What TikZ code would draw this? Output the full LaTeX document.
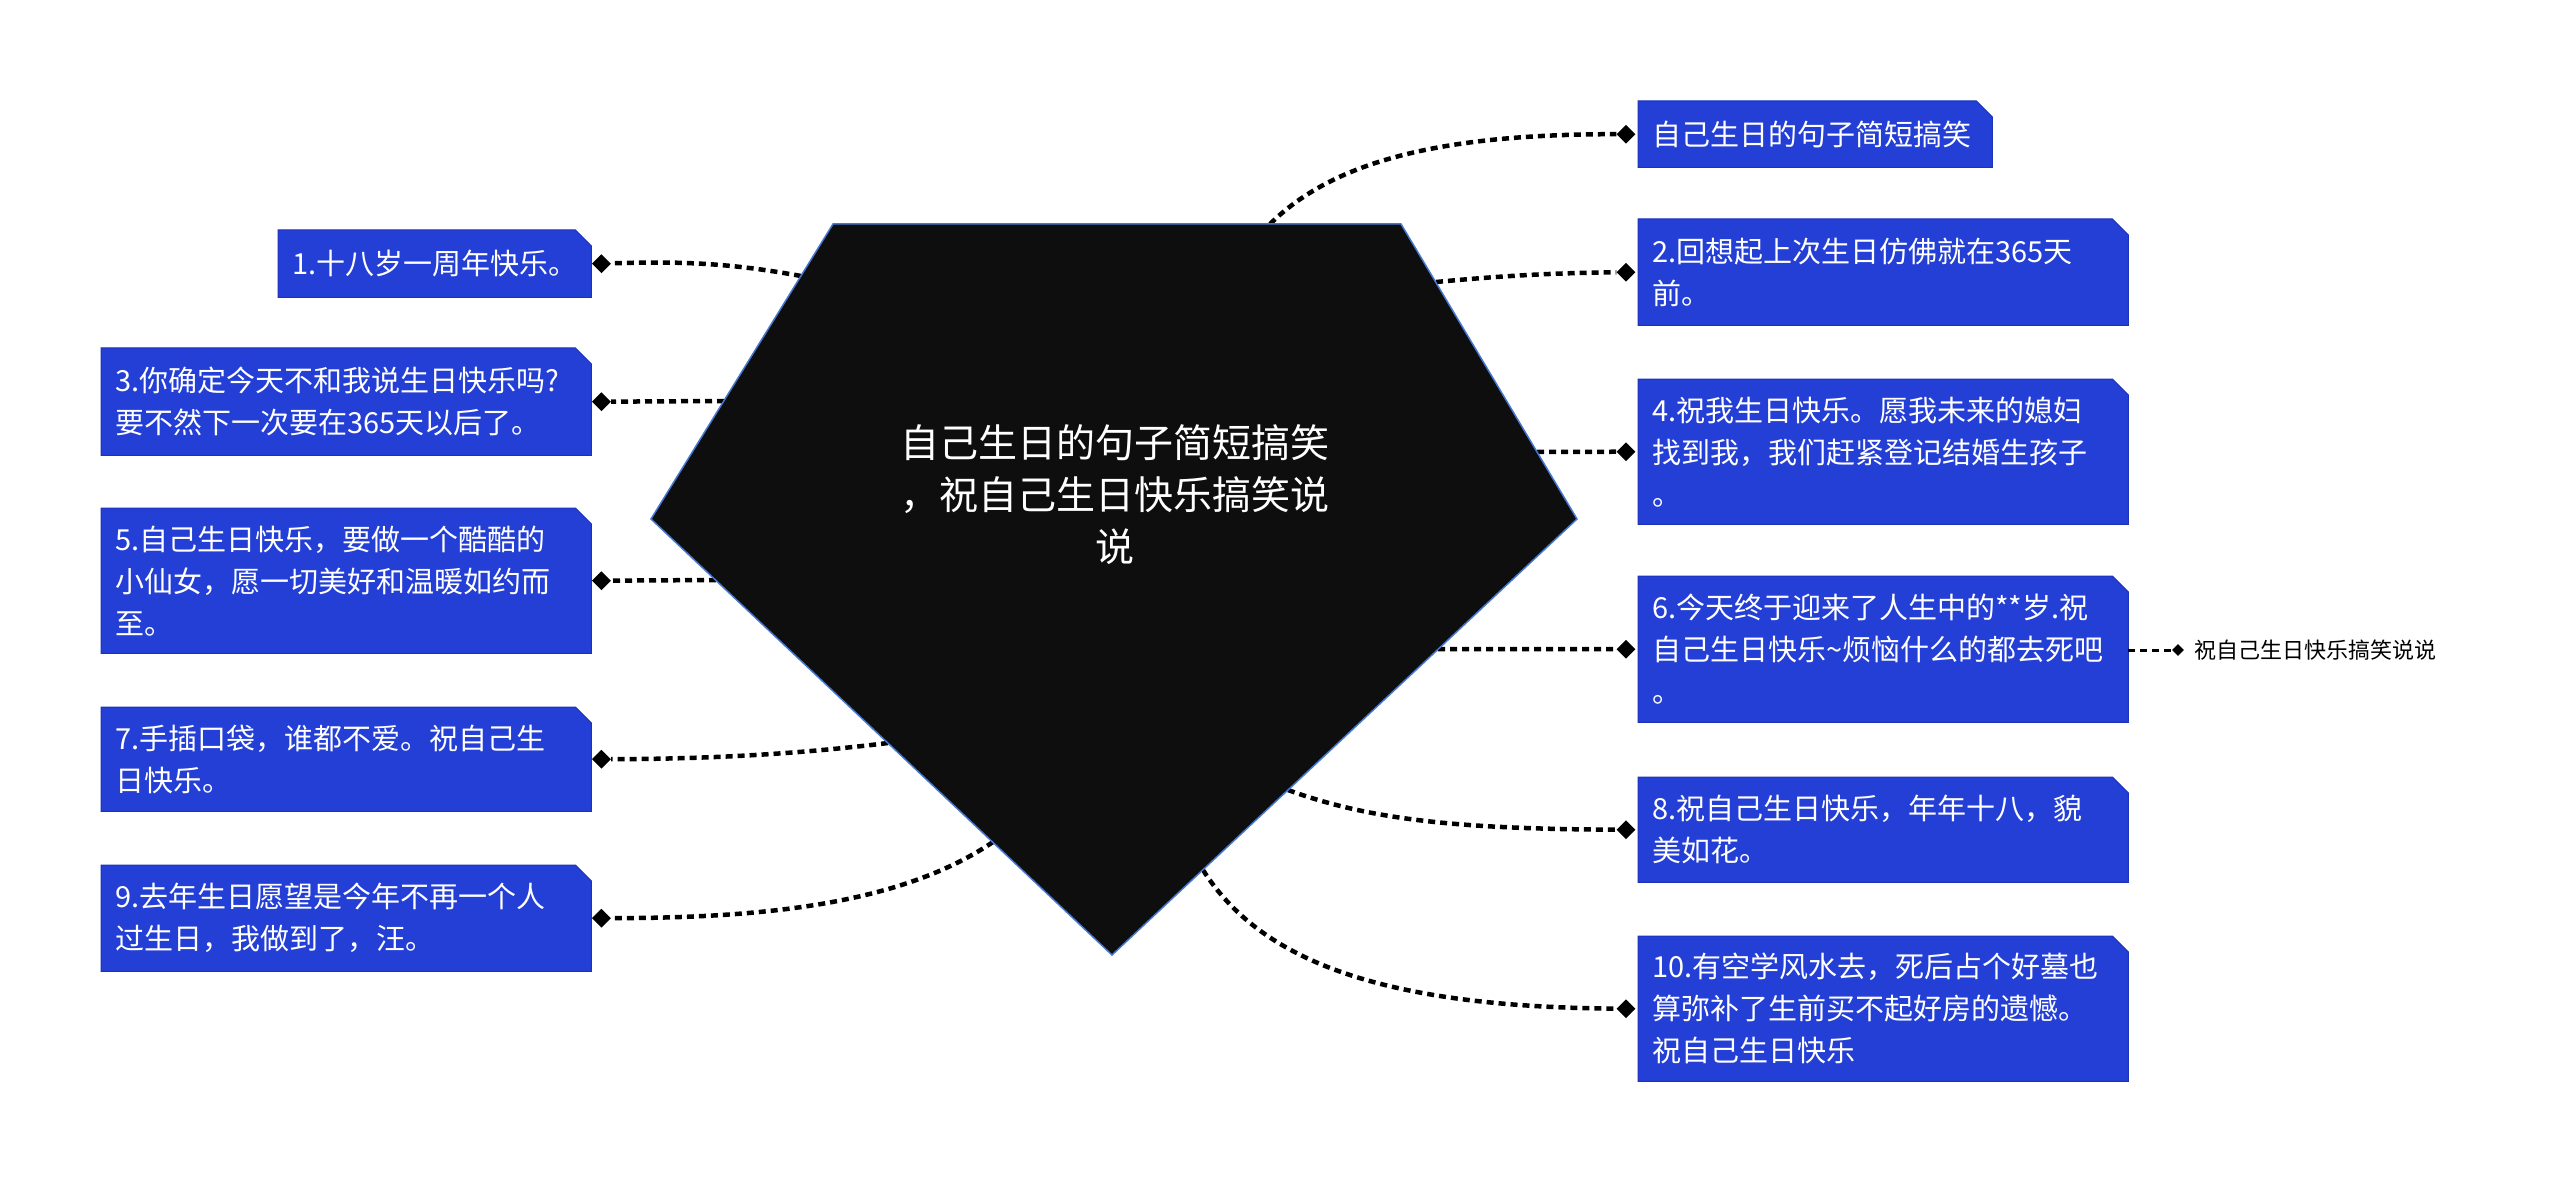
\documentclass[tikz,border=0pt]{standalone}
\usepackage{fontspec}
\setmainfont{Noto Sans CJK SC}
\usetikzlibrary{shapes.geometric,backgrounds}
\definecolor{boxblue}{RGB}{36,63,214}
\definecolor{boxedge}{RGB}{28,50,185}
\definecolor{rootfill}{RGB}{14,14,14}
\definecolor{rootedge}{RGB}{70,120,210}
\begin{document}
\begin{tikzpicture}[x=1pt,y=1pt,
  topic/.style={anchor=north west, rectangle, inner xsep=14pt, inner ysep=0pt,
    minimum width=490pt, text width=462pt, align=left, text=white,
    font=\fontsize{29}{42}\selectfont},
  link/.style={line width=4.5pt, dash pattern=on 7pt off 5pt, black},
  tip/.style={diamond, fill=black, inner sep=0pt, minimum width=19pt, minimum height=19pt},
  smalltip/.style={diamond, fill=black, inner sep=0pt, minimum width=12pt, minimum height=12pt},
  boxfill/.style={fill=boxblue, draw=boxedge, line width=1pt}]
\useasboundingbox (0,0) rectangle (2560,-1182);

% topic boxes
\node[topic, minimum width=354pt, text width=326pt, minimum height=66pt] (t) at (1638,-101) {自己生日的句子简短搞笑};
\node[topic, minimum height=106pt] (b2) at (1638,-219) {2.回想起上次生日仿佛就在365天\\前。};
\node[topic, minimum height=145pt] (b4) at (1638,-379) {4.祝我生日快乐。愿我未来的媳妇\\找到我，我们赶紧登记结婚生孩子\\。};
\node[topic, minimum height=146pt] (b6) at (1638,-576) {6.今天终于迎来了人生中的**岁.祝\\自己生日快乐\textasciitilde 烦恼什么的都去死吧\\。};
\node[topic, minimum height=105pt] (b8) at (1638,-777) {8.祝自己生日快乐，年年十八，貌\\美如花。};
\node[topic, minimum height=145pt] (b10) at (1638,-936) {10.有空学风水去，死后占个好墓也\\算弥补了生前买不起好房的遗憾。\\祝自己生日快乐};
\node[topic, minimum width=313pt, text width=285pt, minimum height=67pt] (b1) at (278,-230) {1.十八岁一周年快乐。};
\node[topic, minimum height=107pt] (b3) at (101,-348) {3.你确定今天不和我说生日快乐吗?\\要不然下一次要在365天以后了。};
\node[topic, minimum height=145pt] (b5) at (101,-508) {5.自己生日快乐，要做一个酷酷的\\小仙女，愿一切美好和温暖如约而\\至。};
\node[topic, minimum height=104pt] (b7) at (101,-707) {7.手插口袋，谁都不爱。祝自己生\\日快乐。};
\node[topic, minimum height=106pt] (b9) at (101,-865) {9.去年生日愿望是今年不再一个人\\过生日，我做到了，汪。};

\begin{scope}[on background layer]
  \foreach \n in {t,b1,b2,b3,b4,b5,b6,b7,b8,b9,b10}
    \path[boxfill] (\n.north west) -- ([xshift=-16pt]\n.north east)
      -- ([yshift=-16pt]\n.north east) -- (\n.south east) -- (\n.south west) -- cycle;
\end{scope}

% diamonds
\foreach \n in {t,b2,b4,b6,b8,b10}
  \node[tip] (d\n) at ([xshift=-12pt]\n.west) {};
\foreach \n in {b1,b3,b5,b7,b9}
  \node[tip] (d\n) at ([xshift=10pt]\n.east) {};

% sub label
\node[anchor=west, font=\fontsize{22}{26}\selectfont, inner sep=0pt] (sub) at (2194,-650) {祝自己生日快乐搞笑说说};
\node[smalltip] (dsub) at (2178,-650) {};
\draw[link, line width=3pt] (b6.east |- dsub) -- (dsub);

% start points on the root outline
\coordinate (st) at (1270,-224);
\coordinate (s2) at (1436,-282);
\coordinate (s4) at (1537,-452);
\coordinate (s6) at (1438,-649);
\coordinate (s8) at (1288,-790);
\coordinate (s10) at (1203,-870);
\coordinate (s1) at (801,-276);
\coordinate (s3) at (724,-401);
\coordinate (s5) at (716,-580);
\coordinate (s7) at (888,-743);
\coordinate (s9) at (993,-842);

% connectors
\draw[link] (st) .. controls (1330,-165) and (1430,-134) .. (dt);
\draw[link] (s2) .. controls (1500,-276) and (1550,-273) .. (db2);
\draw[link] (s4) -- (db4);
\draw[link] (s6) -- (db6);
\draw[link] (s8) .. controls (1370,-820) and (1460,-829) .. (db8);
\draw[link] (s10) .. controls (1260,-960) and (1380,-1007) .. (db10);
\draw[link] (s1) .. controls (730,-263) and (680,-261) .. (db1);
\draw[link] (s3) -- (db3);
\draw[link] (s5) -- (db5);
\draw[link] (s7) .. controls (790,-755) and (700,-759) .. (db7);
\draw[link] (s9) .. controls (900,-905) and (760,-918) .. (db9);

% root
\path[fill=rootfill, draw=rootedge, line width=1.5pt]
  (833,-224) -- (1401,-224) -- (1577,-519) -- (1112,-955) -- (651,-519) -- cycle;
\node[text=white, align=center, font=\fontsize{39}{52}\selectfont] (root) at (1115,-495)
  {自己生日的句子简短搞笑\\，祝自己生日快乐搞笑说\\说};
\end{tikzpicture}
\end{document}
